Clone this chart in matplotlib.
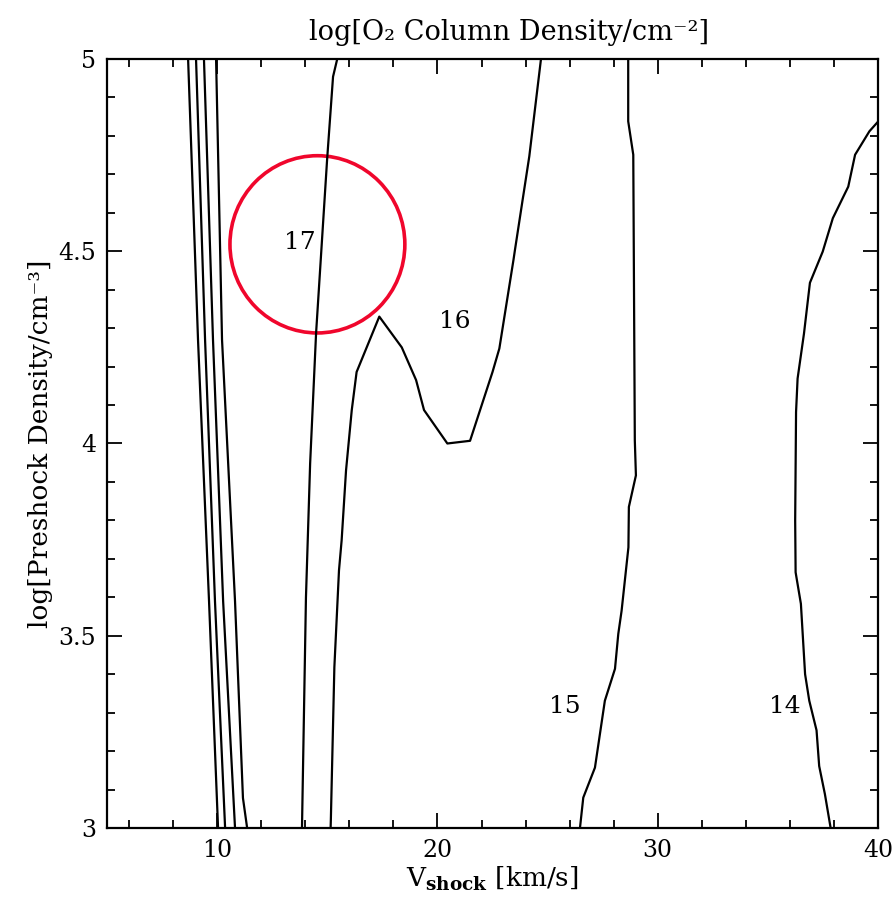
import numpy as np
import matplotlib.pyplot as plt
from matplotlib.patches import Ellipse
from matplotlib.ticker import MultipleLocator

plt.rcParams['font.family'] = ['DejaVu Serif']
plt.rcParams['mathtext.fontset'] = 'dejavuserif'

# contour lines of log N(O2) (x = V_shock, y = log n)
a_x = [8.68, 9.13, 9.63, 10.04]
a_y = [5.0, 4.27, 3.59, 3.0]
b_x = [9.04, 9.45, 9.90, 10.36]
b_y = [5.0, 4.27, 3.59, 3.0]
c_x = [9.40, 9.81, 10.27, 10.81]
c_y = [5.0, 4.27, 3.59, 3.0]
d_x = [9.95, 10.22, 10.81, 11.17, 11.36]
d_y = [5.0, 4.27, 3.59, 3.078, 3.0]

c17_x = [15.45, 15.26, 14.99, 14.49, 14.22, 14.03, 13.85]
c17_y = [5.0, 4.954, 4.738, 4.287, 3.948, 3.599, 3.0]

c16_x = [15.15, 15.16, 15.32, 15.53, 15.65, 15.85, 16.11, 16.33, 17.36, 18.38,
         19.03, 19.39, 20.45, 21.48, 22.50, 22.81, 23.45, 23.52, 24.17, 24.70]
c16_y = [3.0, 3.02, 3.418, 3.670, 3.748, 3.930, 4.087, 4.186, 4.330, 4.250,
         4.165, 4.087, 4.000, 4.007, 4.186, 4.247, 4.477, 4.504, 4.747, 5.0]

c15_x = [28.66, 28.66, 28.89, 28.96, 29.01, 28.69, 28.67, 28.36, 28.21, 28.06,
         27.60, 27.15, 26.62, 26.47]
c15_y = [5.0, 4.838, 4.751, 4.008, 3.917, 3.835, 3.730, 3.565, 3.505, 3.414,
         3.331, 3.157, 3.079, 3.0]

c14_x = [40.0, 39.61, 38.96, 38.65, 37.95, 37.49, 36.91, 36.64, 36.35, 36.28,
         36.24, 36.26, 36.50, 36.69, 36.88, 37.21, 37.33, 37.59, 37.85]
c14_y = [4.837, 4.812, 4.751, 4.668, 4.586, 4.499, 4.418, 4.286, 4.169, 4.082,
         3.800, 3.665, 3.583, 3.400, 3.331, 3.254, 3.161, 3.088, 3.0]

labels = ['17', '16', '15', '14']
label_x = [13.76, 20.80, 25.79, 35.78]
label_y = [4.522, 4.318, 3.315, 3.315]

fig = plt.figure(figsize=(8.95, 9.05), dpi=100)
ax = fig.add_axes([0.1196, 0.0851, 0.8614, 0.8497])

lines = [(a_x, a_y), (b_x, b_y), (c_x, c_y), (d_x, d_y),
         (c17_x, c17_y), (c16_x, c16_y), (c15_x, c15_y), (c14_x, c14_y)]
for lx, ly in lines:
    ax.plot(lx, ly, color='black', lw=1.6)

for t, tx, ty in zip(labels, label_x, label_y):
    ax.text(tx, ty, t, fontsize=18, ha='center', va='center')

# red circle around the "17" label
ax.add_patch(Ellipse((14.55, 4.518), 7.94, 0.461, fill=False,
                     edgecolor='#f0062c', lw=2.6))

ax.set_xlim(5, 40)
ax.set_ylim(3, 5)
ax.xaxis.set_major_locator(MultipleLocator(10))
ax.xaxis.set_minor_locator(MultipleLocator(2))
ax.yaxis.set_major_locator(MultipleLocator(0.5))
ax.yaxis.set_minor_locator(MultipleLocator(0.1))
ax.yaxis.set_major_formatter(plt.FuncFormatter(lambda v, p: '%g' % v))
ax.tick_params(which='both', direction='in', top=True, right=True, width=1.3)
ax.tick_params(which='major', length=11, labelsize=17, pad=8)
ax.tick_params(which='minor', length=5.5)
for s in ax.spines.values():
    s.set_linewidth(1.6)

ax.set_xlabel(r'V$_{\bf shock}$ [km/s]', fontsize=19, labelpad=2)
ax.set_ylabel('log[Preshock Density/cm⁻³]', fontsize=19, labelpad=4)
ax.set_title('log[O₂ Column Density/cm⁻²]', fontsize=19.5, pad=14, x=0.521)

fig.savefig('out.png', dpi=100)
